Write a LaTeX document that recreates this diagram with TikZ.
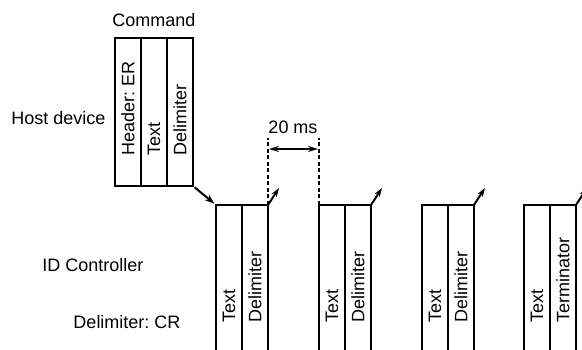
\documentclass[tikz,border=0pt]{standalone}
\usepackage{fontspec}
\setmainfont{Liberation Sans}
\usetikzlibrary{positioning, arrows.meta, calc}
\frenchspacing

\begin{document}
\begin{tikzpicture}[
  x=1pt, y=1pt,
  font=\fontsize{18}{21}\selectfont,
  cell/.style={
    rectangle, draw, line width=2pt, outer sep=0pt, inner sep=0pt,
    minimum width=26pt
  },
  hostcell/.style={cell, minimum height=148pt},
  idcell/.style={cell, minimum height=160pt},
  vtext/.style={rotate=90, anchor=west, inner sep=0pt},
  arr/.style={-{Stealth[length=10pt, width=7pt]}, line width=2pt},
  gap/.style={dashed, dash pattern=on 4pt off 2.5pt, line width=1.5pt},
]
\path[clip, use as bounding box] (0,0) rectangle (582,350);

% Host device side
\node[hostcell] (h1) at (128,238) {};
\node[hostcell, right=0pt of h1] (h2) {};
\node[hostcell, right=0pt of h2] (h3) {};
\node[vtext] (h1t) at ($(h1.south)+(0,30)$) {Header: ER};
\node[vtext] (h2t) at ($(h2.south)+(0,30)$) {Text};
\node[vtext] (h3t) at ($(h3.south)+(0,30)$) {Delimiter};

\node (cmd) at (154,330) {Command};
\node[anchor=east] (host) at (109,232) {Host device};

% ID Controller side
\foreach \n/\x/\t in {1/229/Delimiter, 2/332/Delimiter, 3/435/Delimiter, 4/537/Terminator} {
  \node[idcell] (c\n a) at (\x,65) {};
  \node[idcell, right=0pt of c\n a] (c\n b) {};
  \node[vtext] (c\n at) at ($(c\n a.north)+(0,-118)$) {Text};
  \node[vtext] (c\n bt) at ($(c\n b.north)+(0,-118)$) {\t};
  \coordinate (o\n) at ($(c\n b.north east)+(11,17)$);
  \draw[arr, -{Stealth[length=9pt, width=6pt]}, shorten <=1pt] (c\n b.north east) -- (o\n);
}

\node (idc) at (93,85) {ID Controller};
\node (dcr) at (127,28) {Delimiter: CR};

\draw[arr, shorten <=2pt, shorten >=2pt] (h3.south east) -- (c1a.north west);

% 20 ms gap
\coordinate (d1) at ($(c1b.north east)+(0,67)$);
\coordinate (d2) at ($(c2a.north west)+(0,67)$);
\draw[gap] (c1b.north east) -- (d1);
\draw[gap] (c2a.north west) -- (d2);
\coordinate (m1) at ($(c1b.north east)+(0,56)$);
\coordinate (m2) at ($(c2a.north west)+(0,56)$);
\draw[{Stealth[length=10pt, width=6pt]}-{Stealth[length=10pt, width=6pt]}, line width=1.5pt,
  shorten <=1pt, shorten >=1pt] (m1) -- (m2);
\node (ms) at (293,223) {20 ms};
\end{tikzpicture}
\end{document}
